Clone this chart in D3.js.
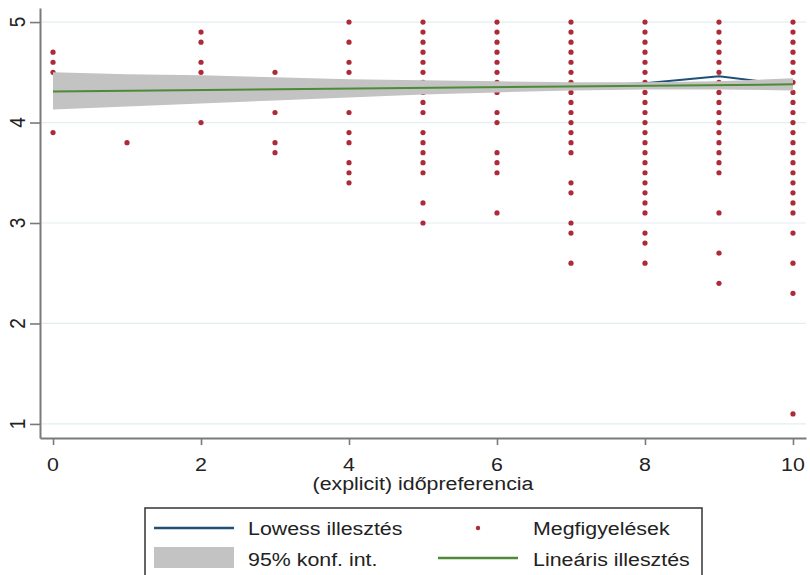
<!DOCTYPE html>
<html>
<head>
<meta charset="utf-8">
<script src="https://cdn.jsdelivr.net/npm/d3@7"></script>
<style>
  html, body { margin: 0; padding: 0; background: #ffffff; }
  svg { display: block; }
  text { font-family: "Liberation Sans", Arial, sans-serif; fill: #222; }
</style>
</head>
<body>
<svg id="chart" width="810" height="575"></svg>
<script>
// ---- data ----
const obsX = [0, 1, 2, 3, 4, 5, 6, 7, 8, 9, 10];
const obsY = [
  [4.7, 4.6, 4.5, 3.9],
  [3.8],
  [4.9, 4.8, 4.6, 4.5, 4.0],
  [4.5, 4.1, 3.8, 3.7],
  [5.0, 4.8, 4.6, 4.5, 4.1, 3.9, 3.8, 3.6, 3.5, 3.4],
  [5.0, 4.9, 4.8, 4.7, 4.6, 4.5, 4.4, 4.3, 4.2, 4.1, 3.9, 3.8, 3.7, 3.6, 3.5, 3.2, 3.0],
  [5.0, 4.9, 4.8, 4.7, 4.6, 4.5, 4.4, 4.3, 4.1, 4.0, 3.7, 3.6, 3.5, 3.1],
  [5.0, 4.9, 4.8, 4.7, 4.6, 4.5, 4.4, 4.3, 4.2, 4.1, 4.0, 3.9, 3.8, 3.7, 3.4, 3.3, 3.0, 2.9, 2.6],
  [5.0, 4.9, 4.8, 4.7, 4.6, 4.5, 4.4, 4.3, 4.2, 4.1, 4.0, 3.9, 3.8, 3.7, 3.6, 3.5, 3.4, 3.3, 3.2, 3.1, 2.9, 2.8, 2.6],
  [5.0, 4.9, 4.8, 4.7, 4.6, 4.5, 4.4, 4.3, 4.2, 4.1, 4.0, 3.9, 3.8, 3.7, 3.6, 3.5, 3.1, 2.7, 2.4],
  [5.0, 4.9, 4.8, 4.7, 4.6, 4.5, 4.4, 4.3, 4.2, 4.1, 4.0, 3.9, 3.8, 3.7, 3.6, 3.5, 3.4, 3.3, 3.2, 3.1, 2.9, 2.6, 2.3, 1.1]
];

const fitX   = [0, 10];
const fitY   = [4.31, 4.38];

const bandX  = [0, 1, 2, 3, 4, 5, 6, 7, 8, 9, 10];
const bandLo = [4.13, 4.16, 4.19, 4.22, 4.25, 4.28, 4.30, 4.32, 4.33, 4.33, 4.32];
const bandHi = [4.50, 4.48, 4.47, 4.45, 4.43, 4.42, 4.41, 4.40, 4.40, 4.41, 4.44];

const lowessX = [0, 1, 2, 3, 4, 5, 6, 7, 8, 9, 10];
const lowessY = [4.33, 4.33, 4.33, 4.33, 4.34, 4.35, 4.36, 4.36, 4.39, 4.46, 4.37];

const xTicks = [0, 2, 4, 6, 8, 10];
const yTicks = [1, 2, 3, 4, 5];

const xTitle = "(explicit) időpreferencia";
const legendLabels = ["Lowess illesztés", "Megfigyelések", "95% konf. int.", "Lineáris illesztés"];

// ---- styles ----
const C_DOT = "#ad2b38", C_BAND = "#c3c3c3", C_FIT = "#4e8a37", C_LOW = "#1f5078";
const C_AXIS = "#7a7a7a", C_GRID = "#e3eef1";
const FS = 19, SX = 1.125;

const svg = d3.select("#chart");
const x = d3.scaleLinear().domain([-0.176, 10.176]).range([40, 806]);
const y = d3.scaleLinear().domain([0.86, 5.14]).range([438, 8]);

function stretchedText(g, tx, ty, str, anchor, rotate) {
  return g.append("text")
    .attr("transform", `translate(${tx},${ty}) scale(${SX},1)` + (rotate ? ` rotate(${rotate})` : ""))
    .attr("text-anchor", anchor)
    .style("font-size", FS + "px")
    .text(str);
}

// grid
svg.append("g").selectAll("line").data(yTicks).join("line")
  .attr("x1", x.range()[0]).attr("x2", x.range()[1])
  .attr("y1", d => y(d)).attr("y2", d => y(d))
  .attr("stroke", C_GRID).attr("stroke-width", 1.2);

// lowess line (drawn first; mostly hidden under band)
const lineGen = d3.line().x(d => x(d[0])).y(d => y(d[1]));
svg.append("path")
  .datum(lowessX.map((v, i) => [v, lowessY[i]]))
  .attr("d", lineGen).attr("fill", "none")
  .attr("stroke", C_LOW).attr("stroke-width", 2);

// observations
const pts = [];
obsX.forEach((xv, i) => obsY[i].forEach(yv => pts.push([xv, yv])));
svg.append("g").selectAll("circle").data(pts).join("circle")
  .attr("cx", d => x(d[0])).attr("cy", d => y(d[1])).attr("r", 2.6)
  .attr("fill", C_DOT);

// CI band
const area = d3.area().x(d => x(d[0])).y0(d => y(d[1])).y1(d => y(d[2]));
svg.append("path")
  .datum(bandX.map((v, i) => [v, bandLo[i], bandHi[i]]))
  .attr("d", area).attr("fill", C_BAND);

// linear fit
svg.append("path")
  .datum(fitX.map((v, i) => [v, fitY[i]]))
  .attr("d", lineGen).attr("fill", "none")
  .attr("stroke", C_FIT).attr("stroke-width", 2);

// axes
const gx = svg.append("g").attr("transform", "translate(0,438)")
  .call(d3.axisBottom(x).tickValues(xTicks).tickSize(7).tickSizeOuter(0).tickFormat(""));
const gy = svg.append("g").attr("transform", "translate(40,0)")
  .call(d3.axisLeft(y).tickValues(yTicks).tickSize(10).tickSizeOuter(0).tickFormat(""));
[gx, gy].forEach(g => {
  g.select(".domain").attr("stroke", C_AXIS).attr("stroke-width", 2);
  g.selectAll(".tick line").attr("stroke", C_AXIS).attr("stroke-width", 1.6);
});

// tick labels
const labels = svg.append("g");
xTicks.forEach(t => stretchedText(labels, x(t), 471, String(t), "middle"));
yTicks.forEach(t => stretchedText(labels, 25, y(t), String(t), "middle", -90));

// x title
stretchedText(svg, x(5), 490, xTitle, "middle");

// legend
const lg = svg.append("g");
lg.append("rect").attr("x", 145).attr("y", 508).attr("width", 557).attr("height", 80)
  .attr("fill", "#fff").attr("stroke", "#333").attr("stroke-width", 1.5);
lg.append("line").attr("x1", 154).attr("x2", 234).attr("y1", 528).attr("y2", 528)
  .attr("stroke", C_LOW).attr("stroke-width", 2.4);
stretchedText(lg, 248, 535, legendLabels[0], "start");
lg.append("circle").attr("cx", 478).attr("cy", 528).attr("r", 2.2).attr("fill", C_DOT);
stretchedText(lg, 533, 535, legendLabels[1], "start");
lg.append("rect").attr("x", 154).attr("y", 547).attr("width", 80).attr("height", 21).attr("fill", C_BAND);
stretchedText(lg, 248, 566, legendLabels[2], "start");
lg.append("line").attr("x1", 438).attr("x2", 518).attr("y1", 558).attr("y2", 558)
  .attr("stroke", C_FIT).attr("stroke-width", 2.4);
stretchedText(lg, 533, 566, legendLabels[3], "start");
</script>
</body>
</html>
